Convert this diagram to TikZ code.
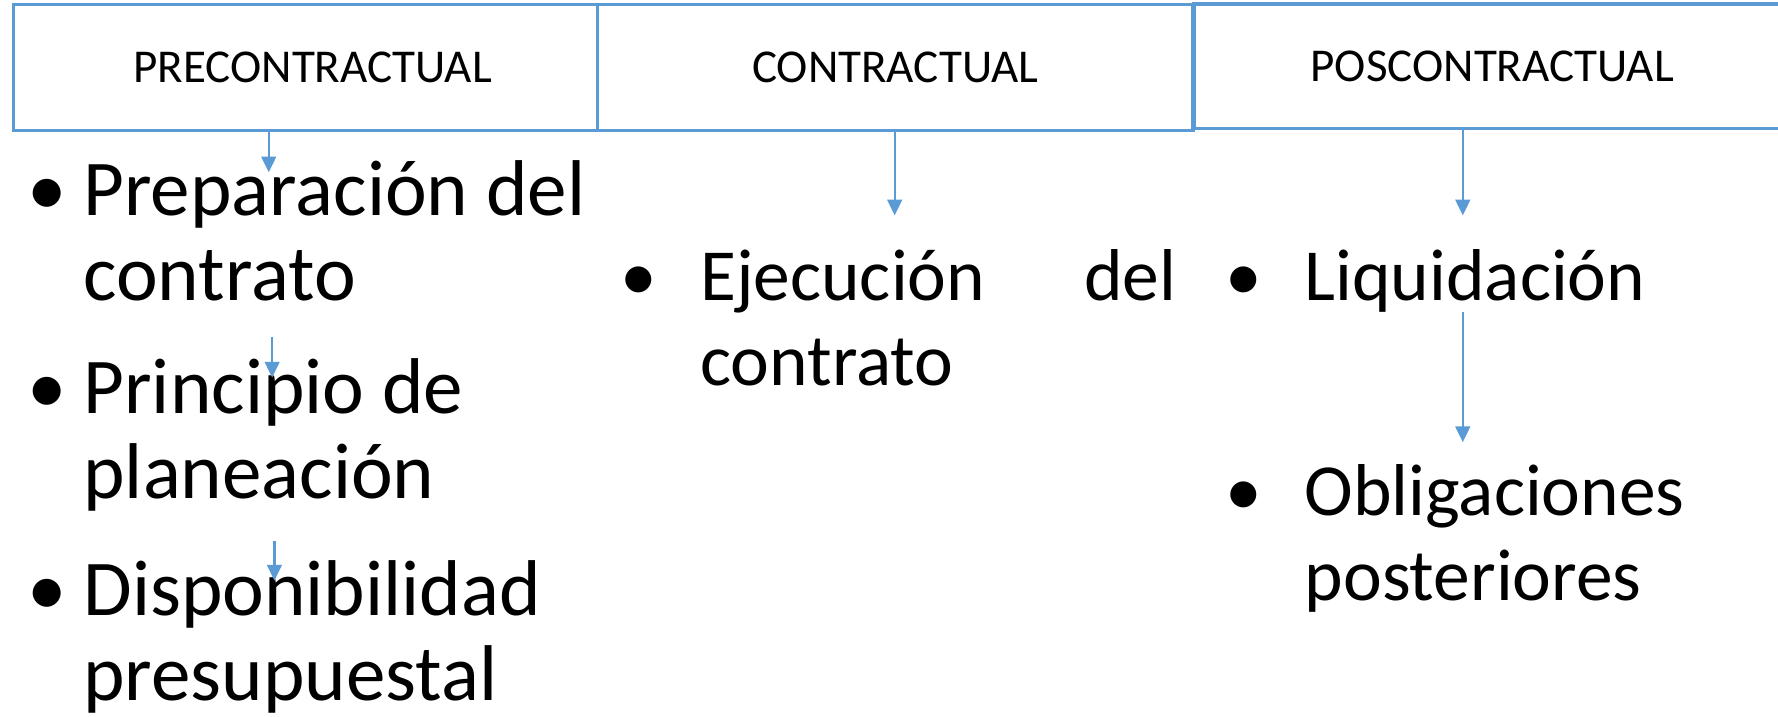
\documentclass[tikz,border=0pt]{standalone}
\usepackage{fontspec}
\setmainfont{Carlito}
\usetikzlibrary{arrows.meta}
\definecolor{officeblue}{RGB}{91,155,213}

\begin{document}
\begin{tikzpicture}[x=0.1134mm, y=-0.1134mm,
    etapa/.style={draw=officeblue, line width=1pt, inner sep=0pt,
      minimum height=35.8pt, font=\fontsize{13.4}{16}\selectfont},
    punto/.style={anchor=base, inner sep=0pt, font=\fontsize{22.5}{24.2}\selectfont},
    item/.style={anchor=base west, inner sep=0pt, align=left,
      text width=170pt, font=\fontsize{22.5}{24.2}\selectfont,
      execute at begin node={\spaceskip=0pt\xspaceskip=0pt\relax}},
    chico/.style={font=\fontsize{20.9}{24.2}\selectfont},
    flecha/.style={draw=officeblue, line width=0.65pt,
      -{Triangle[width=4.2pt,length=4.5pt]}}]
  \useasboundingbox (0,0) rectangle (1568,632);

  % etapas
  \node[etapa, minimum width=166.2pt] (pre) at (269.5,59.5) {\hspace*{4pt}PRECONTRACTUAL};
  \node[etapa, minimum width=169.4pt] (con) at (789.5,59.5) {CONTRACTUAL};
  \node[etapa, minimum width=169.7pt, minimum height=35.5pt] (pos) at (1316,58.5) {POSCONTRACTUAL};

  % precontractual
  \node[punto] (p1) at (42,190) {\textbullet};
  \node[item] (prep) at (73,190) {Preparación del\\contrato};
  \node[punto] (p2) at (42,365) {\textbullet};
  \node[item] (plan) at (73,365) {Principio de\\planeación};
  \node[punto] (p3) at (42,543) {\textbullet};
  \node[item] (disp) at (73,543) {Disponibilidad\\presupuestal};

  % contractual
  \node[punto, chico] (p4) at (563,265) {\textbullet};
  \node[item, chico, text width=135.5pt] (ejec) at (617,265) {Ejecución\hfill del\\contrato};

  % poscontractual
  \node[punto, chico] (p5) at (1097,265) {\textbullet};
  \node[item, chico] (liq) at (1150,265) {Liquidación};
  \node[punto, chico] (p6) at (1097,455) {\textbullet};
  \node[item, chico] (obl) at (1150,455) {Obligaciones\\posteriores};

  % flechas
  \coordinate (f1) at (237,152);
  \coordinate (f4) at (789,190);
  \coordinate (f5) at (1290,190);
  \draw[flecha] (pre.south -| f1) -- (f1);
  \draw[flecha] (con.south -| f4) -- (f4);
  \draw[flecha] (pos.south -| f5) -- (f5);
  \coordinate (a2) at (240,297);
  \coordinate (b2) at (240,333);
  \coordinate (a3) at (242,477);
  \coordinate (b3) at (242,512);
  \coordinate (a6) at (1290,275);
  \coordinate (b6) at (1290,390);
  \draw[flecha] (a2) -- (b2);
  \draw[flecha] (a3) -- (b3);
  \draw[flecha] (a6) -- (b6);
\end{tikzpicture}
\end{document}
